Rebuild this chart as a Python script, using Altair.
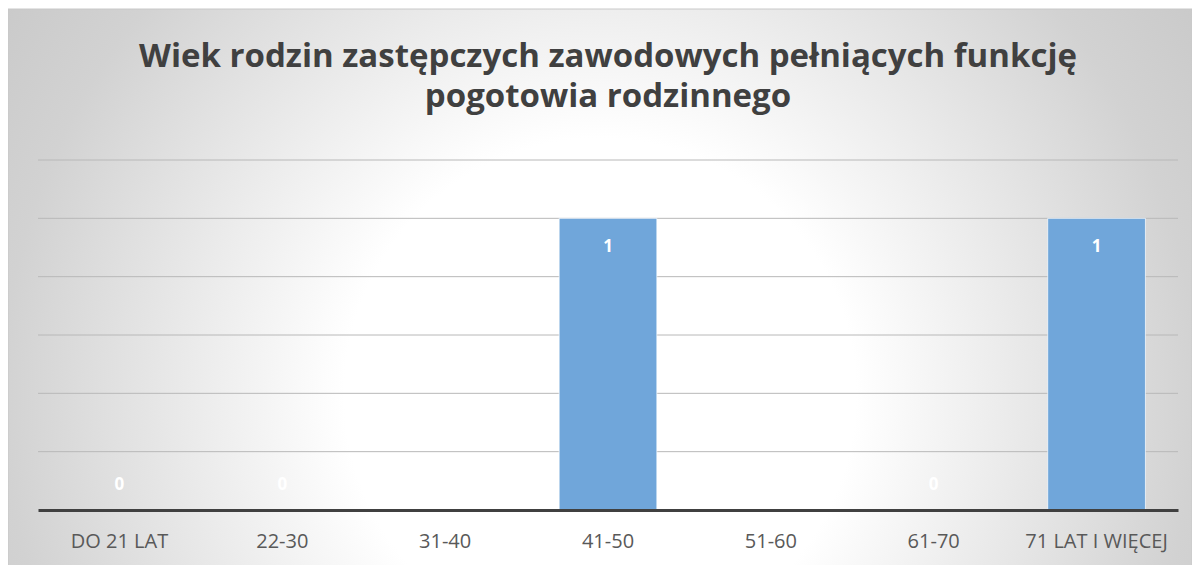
import altair as alt
import pandas as pd

categories = ["DO 21 LAT", "22-30", "31-40", "41-50", "51-60", "61-70", "71 LAT I WIĘCEJ"]
values = [0, 0, None, 1, None, 0, 1]
grid_values = [0.2, 0.4, 0.6, 0.8, 1.0, 1.2]
title_lines = ["Wiek rodzin zastępczych zawodowych pełniących funkcję", "pogotowia rodzinnego"]

df = pd.DataFrame({"kategoria": categories, "liczba": values})
grid_df = pd.DataFrame({"v": grid_values})

W, H = 1140, 350
PAD = {"left": 30, "right": 14, "top": 152, "bottom": 55}

gradient = {
    "gradient": "radial",
    "x1": 0.5, "y1": 0.58, "x2": 0.5, "y2": 0.58,
    "r1": 0, "r2": 0.72,
    "stops": [
        {"offset": 0, "color": "#ffffff"},
        {"offset": 0.3, "color": "#ffffff"},
        {"offset": 0.7, "color": "#d2d2d2"},
        {"offset": 1, "color": "#c0c0c0"},
    ],
}

y_scale = alt.Scale(domain=[0, 1.2])
x_enc = alt.X(
    "kategoria:N",
    sort=categories,
    scale=alt.Scale(paddingInner=0.4, paddingOuter=0.2),
    axis=alt.Axis(
        title=None, labelAngle=0, labelFontSize=20, labelColor="#595959",
        labelFont="Open Sans", labelPadding=21, ticks=False,
        domainColor="#404040", domainWidth=3, grid=False, zindex=1,
    ),
)

bg = alt.Chart(alt.Data(values=[{}])).mark_rect(
    fill=gradient, stroke="#c8c8c8", strokeWidth=1
).encode(
    x=alt.value(-PAD["left"]), x2=alt.value(W + PAD["right"]),
    y=alt.value(-PAD["top"] + 1), y2=alt.value(H + 80),
)

grid = alt.Chart(grid_df).mark_rule(color="#b8b8b8", strokeWidth=1).encode(
    y=alt.Y("v:Q", scale=y_scale, axis=None),
    x=alt.value(0), x2=alt.value(W),
)

bars = alt.Chart(df).mark_bar(
    color="#70a6da", stroke="#ffffff", strokeWidth=1, strokeOpacity=0.7
).encode(
    x=x_enc,
    y=alt.Y("liczba:Q", scale=y_scale, axis=None),
)

labels_pos = alt.Chart(df).transform_filter("datum.liczba > 0").mark_text(
    color="white", fontWeight="bold", fontSize=17, font="Open Sans",
    baseline="middle", dy=29,
).encode(x=x_enc, y=alt.Y("liczba:Q", scale=y_scale, axis=None), text="liczba:Q")

labels_zero = alt.Chart(df).transform_filter("datum.liczba === 0").mark_text(
    color="white", fontWeight="bold", fontSize=17, font="Open Sans",
    baseline="middle", dy=-25,
).encode(x=x_enc, y=alt.Y("liczba:Q", scale=y_scale, axis=None), text="liczba:Q")

chart = alt.layer(bg, grid, bars, labels_pos, labels_zero).properties(
    width=W, height=H,
    padding=PAD,
    autosize=alt.AutoSizeParams(type="none"),
    title=alt.Title(
        title_lines, fontSize=33, font="Open Sans", fontWeight="bold",
        color="#404040", lineHeight=40, anchor="middle", offset=-105,
        frame="group",
    ),
).configure_view(stroke=None)

chart.save("out.html", embed_options={"renderer": "svg", "actions": False})
